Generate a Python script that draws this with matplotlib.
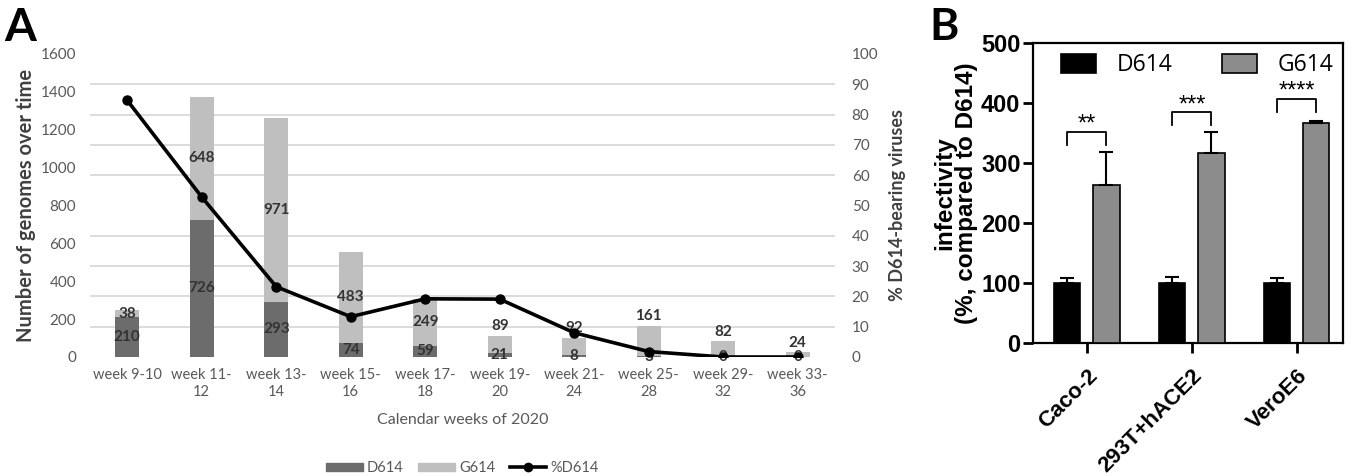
import matplotlib

matplotlib.use("Agg")
import matplotlib.pyplot as plt
from matplotlib.lines import Line2D
from matplotlib.patches import Patch

# Panel A: genomes per two-week window
weeks = ["week 9-10", "week 11-\n12", "week 13-\n14", "week 15-\n16", "week 17-\n18",
         "week 19-\n20", "week 21-\n24", "week 25-\n28", "week 29-\n32", "week 33-\n36"]
d614 = [210, 726, 293, 74, 59, 21, 8, 3, 0, 0]
g614 = [38, 648, 971, 483, 249, 89, 92, 161, 82, 24]
pct_d614 = [84.7, 52.8, 23.2, 13.3, 19.2, 19.1, 8.0, 1.8, 0.0, 0.0]
pct_ticks = list(range(0, 101, 10))
count_ticks = list(range(0, 1601, 200))

# Panel B: infectivity relative to D614
cells = ["Caco-2", "293T+hACE2", "VeroE6"]
inf_d614 = [100, 100, 100]
err_d614 = [8, 11, 8]
inf_g614 = [264, 317, 367]
err_g614 = [55, 35, 4]
stars = ["**", "***", "****"]
bracket_top = [352, 385, 408]
bracket_leg = [330, 364, 385]

DARK = "#6c6c6c"
LIGHT = "#bfbfbf"
TXT = "#595959"

fig = plt.figure(figsize=(13.57, 4.76), dpi=100)

# ---------------- panel A ----------------
ax = fig.add_axes([0.0663, 0.25, 0.549, 0.6366])
ax2 = ax.twinx()
x = list(range(len(weeks)))
totals = [d + g for d, g in zip(d614, g614)]

ax.bar(x, d614, width=0.32, color=DARK, zorder=3)
ax.bar(x, g614, width=0.32, bottom=d614, color=LIGHT, zorder=3)

lab = dict(ha="center", fontsize=11, fontweight="bold", color="#333333",
           family="Lato", zorder=5)
for i in x:
    ax.text(i, d614[i] / 2, str(d614[i]), va="center", **lab)
    if totals[i] >= 200:
        ax.text(i, d614[i] + g614[i] / 2, str(g614[i]), va="center", **lab)
    else:
        ax.annotate(str(g614[i]), (i, totals[i]), xytext=(0, 2),
                    textcoords="offset points", va="bottom", **lab)

# gridlines follow the percentage scale
ax.set_yticks([t * 16 for t in pct_ticks], minor=True)
ax.grid(which="minor", axis="y", color="#d9d9d9", lw=1.3, zorder=0)
ax.tick_params(which="minor", length=0)
ax.set_yticks(count_ticks)
ax.set_ylim(0, 1600)
ax.set_xlim(-0.5, len(weeks) - 0.5)
ax.set_xticks(x)
ax.set_xticklabels(weeks, fontsize=10.5, color=TXT, family="Lato", linespacing=1.3)
ax.tick_params(axis="x", length=0, pad=8)
ax.tick_params(axis="y", length=0, labelsize=11, labelcolor=TXT, pad=10)
for t in ax.get_yticklabels():
    t.set_family("Lato")
for s in ax.spines.values():
    s.set_visible(False)
ax.set_xlabel("Calendar weeks of 2020", fontsize=11.5, color=TXT, family="Lato", labelpad=10)
ax.set_ylabel("Number of genomes over time", fontsize=14.5, color="#404040",
              family="Lato", fontweight="bold", labelpad=3)

ax2.plot(x, pct_d614, color="black", lw=2.6, marker="o", ms=6.5, zorder=6)
ax2.set_ylim(0, 100)
ax2.set_yticks(pct_ticks)
ax2.tick_params(axis="y", length=0, labelsize=11, labelcolor=TXT, pad=12)
for t in ax2.get_yticklabels():
    t.set_family("Lato")
for s in ax2.spines.values():
    s.set_visible(False)
ax2.set_ylabel("% D614-bearing viruses", fontsize=13, color="#404040",
               family="Lato", fontweight="bold", labelpad=8)

handles = [Patch(color=DARK, label="D614"), Patch(color=LIGHT, label="G614"),
           Line2D([], [], color="black", lw=2.6, marker="o", ms=6, label="%D614")]
fig.legend(handles=handles, loc="center", bbox_to_anchor=(0.341, 0.017), ncol=3,
           frameon=False, prop={"family": "Lato", "size": 10.5}, labelcolor=TXT,
           handlelength=2.5, handleheight=0.45, handletextpad=0.3, columnspacing=1.0)

fig.text(0.003, 0.985, "A", fontsize=33, fontweight="bold", family="Lato",
         va="top", ha="left")

# ---------------- panel B ----------------
bx = fig.add_axes([0.7612, 0.2788, 0.2285, 0.6302])
bw = 0.25
off = 0.186
pos = list(range(len(cells)))
ek = dict(elinewidth=1.5, capsize=5, capthick=1.5, ecolor="black")
bx.bar([p - off for p in pos], inf_d614, width=bw, color="black", edgecolor="black",
       lw=1.2, yerr=[[0] * 3, err_d614], error_kw=ek, label="D614", zorder=3)
bx.bar([p + off for p in pos], inf_g614, width=bw, color="#8c8c8c", edgecolor="black",
       lw=1.2, yerr=[[0] * 3, err_g614], error_kw=ek, label="G614", zorder=3)

for p, s, top, leg in zip(pos, stars, bracket_top, bracket_leg):
    bx.plot([p - off, p - off, p + off, p + off], [leg, top, top, leg],
            color="black", lw=1.3)
    bx.text(p, top + 2, s, ha="center", va="baseline", fontsize=17,
            family="Liberation Sans")

bx.set_xlim(-0.514, 2.44)
bx.set_ylim(0, 500)
bx.set_yticks(range(0, 501, 100))
bx.set_xticks(pos)
bx.set_xticklabels(cells, rotation=45, ha="right", rotation_mode="anchor",
                   fontsize=16, fontweight="bold", family="Liberation Sans")
bx.tick_params(axis="both", length=7, width=2, direction="out", pad=4)
bx.tick_params(axis="y", labelsize=17, pad=2)
bx.tick_params(axis="x", pad=9)
for t in bx.get_yticklabels():
    t.set_fontweight("bold")
    t.set_family("Liberation Sans")
for s in bx.spines.values():
    s.set_linewidth(1.6)
bx.set_ylabel("infectivity\n(%, compared to D614)", fontsize=17.5, fontweight="bold",
              family="Liberation Sans", linespacing=0.95, labelpad=2)
bx.legend(loc="upper center", bbox_to_anchor=(0.53, 1.035), ncol=2, frameon=False,
          prop={"family": "Open Sans", "size": 16.5}, handlelength=1.5,
          handleheight=0.85, handletextpad=0.9, columnspacing=2.2)

fig.text(0.685, 0.985, "B", fontsize=32, fontweight="bold", family="Lato",
         va="top", ha="left")

fig.savefig("out.png", dpi=100)
